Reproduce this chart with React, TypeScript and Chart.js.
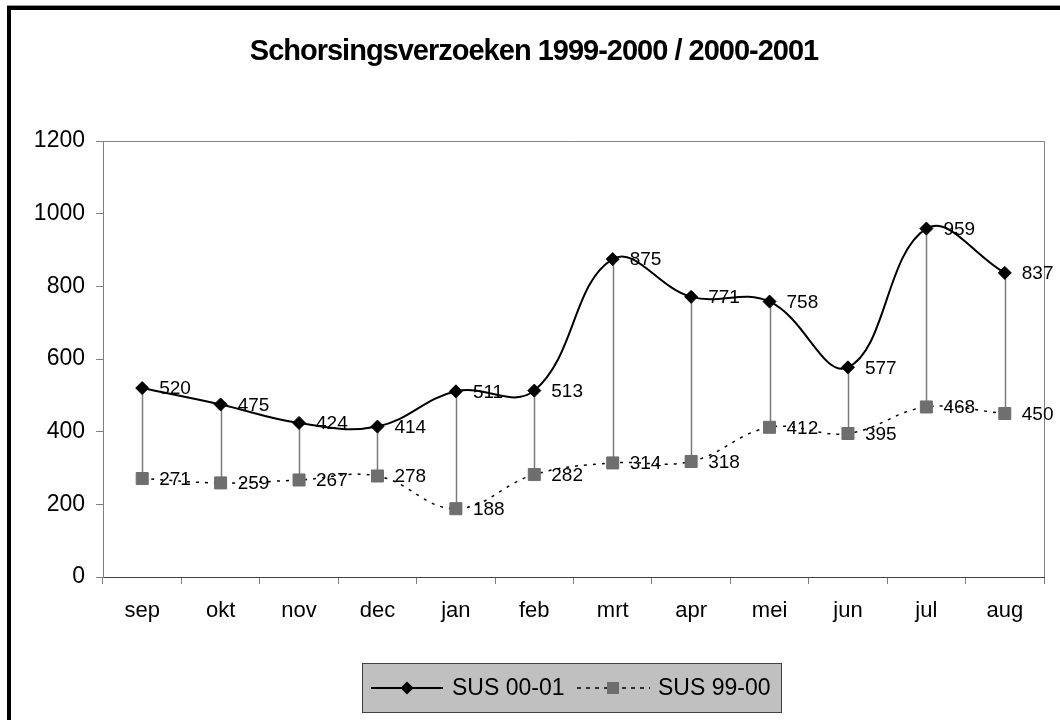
import React, { useEffect, useRef } from "react";
import { Chart, registerables } from "chart.js";

Chart.register(...registerables);

const categories = ["sep", "okt", "nov", "dec", "jan", "feb", "mrt", "apr", "mei", "jun", "jul", "aug"];
const sus0001 = [520, 475, 424, 414, 511, 513, 875, 771, 758, 577, 959, 837];
const sus9900 = [271, 259, 267, 278, 188, 282, 314, 318, 412, 395, 468, 450];
const yTicks = [0, 200, 400, 600, 800, 1000, 1200];
const seriesNames = ["SUS 00-01", "SUS 99-00"];
const titleText = "Schorsingsverzoeken 1999-2000 / 2000-2001";

const FONT = '"Liberation Sans", Arial, sans-serif';
const W = 1060;
const H = 720;

const excelPlugin = {
  id: "excelLook",
  beforeDraw(chart: any) {
    const ctx = chart.ctx;
    ctx.save();
    ctx.fillStyle = "#ffffff";
    ctx.fillRect(0, 0, W, H);
    ctx.fillStyle = "#9a9a9a";
    ctx.fillRect(7, 5, W - 7, 1);
    ctx.fillStyle = "#000000";
    ctx.fillRect(7, 6, W - 7, 4);
    ctx.fillRect(7, 6, 4, H - 6);
    ctx.restore();
  },
  beforeDatasetsDraw(chart: any) {
    const ctx = chart.ctx;
    const { left, right, top, bottom } = chart.chartArea;
    ctx.save();
    ctx.strokeStyle = "#808080";
    ctx.lineWidth = 1;
    ctx.beginPath();
    ctx.moveTo(left, Math.round(top) + 0.5);
    ctx.lineTo(Math.round(right) + 0.5, Math.round(top) + 0.5);
    ctx.lineTo(Math.round(right) + 0.5, bottom);
    ctx.stroke();
    // high-low lines
    const m0 = chart.getDatasetMeta(0);
    const m1 = chart.getDatasetMeta(1);
    ctx.strokeStyle = "#7a7a7a";
    ctx.lineWidth = 1.5;
    m0.data.forEach((p: any, i: number) => {
      const q = m1.data[i];
      if (!q) return;
      const x = Math.round(p.x) + 0.5;
      ctx.beginPath();
      ctx.moveTo(x, p.y);
      ctx.lineTo(x, q.y);
      ctx.stroke();
    });
    ctx.restore();
  },
  afterDatasetsDraw(chart: any) {
    const ctx = chart.ctx;
    ctx.save();
    ctx.font = `19px ${FONT}`;
    ctx.fillStyle = "#000";
    ctx.textAlign = "left";
    ctx.textBaseline = "middle";
    chart.data.datasets.forEach((ds: any, di: number) => {
      const meta = chart.getDatasetMeta(di);
      meta.data.forEach((p: any, i: number) => {
        ctx.fillText(String(ds.data[i]), p.x + 17, p.y + 1);
      });
    });
    ctx.restore();
  },
  afterDraw(chart: any) {
    const ctx = chart.ctx;
    ctx.save();
    // title
    ctx.font = `bold 29px ${FONT}`;
    try {
      (ctx as any).letterSpacing = "-1px";
    } catch (e) {}
    ctx.fillStyle = "#000";
    ctx.textAlign = "center";
    ctx.textBaseline = "middle";
    ctx.fillText(titleText, 534, 52);
    try {
      (ctx as any).letterSpacing = "0px";
    } catch (e) {}

    // legend
    const bx = 362, by = 663, bw = 420, bh = 50;
    ctx.fillStyle = "#c0c0c0";
    ctx.fillRect(bx, by, bw, bh);
    ctx.strokeStyle = "#404040";
    ctx.lineWidth = 1;
    ctx.strokeRect(bx + 0.5, by + 0.5, bw - 1, bh - 1);
    const cy = by + bh / 2;

    // item 1
    ctx.strokeStyle = "#000";
    ctx.lineWidth = 2;
    ctx.beginPath();
    ctx.moveTo(371, cy);
    ctx.lineTo(443, cy);
    ctx.stroke();
    ctx.fillStyle = "#000";
    ctx.beginPath();
    ctx.moveTo(407 - 6.5, cy);
    ctx.lineTo(407, cy - 6.5);
    ctx.lineTo(407 + 6.5, cy);
    ctx.lineTo(407, cy + 6.5);
    ctx.closePath();
    ctx.fill();
    ctx.font = `23px ${FONT}`;
    ctx.textAlign = "left";
    ctx.textBaseline = "middle";
    ctx.fillText(seriesNames[0], 452, cy + 1);

    // item 2
    ctx.lineWidth = 1.5;
    ctx.setLineDash([4, 5]);
    ctx.beginPath();
    ctx.moveTo(577, cy);
    ctx.lineTo(650, cy);
    ctx.stroke();
    ctx.setLineDash([]);
    ctx.fillStyle = "#6e6e6e";
    ctx.fillRect(613 - 6, cy - 6, 12, 12);
    ctx.fillStyle = "#000";
    ctx.fillText(seriesNames[1], 658, cy + 1);
    ctx.restore();
  },
};

export default function App() {
  const ref = useRef<HTMLCanvasElement | null>(null);

  useEffect(() => {
    if (!ref.current) return;
    const chart = new Chart(ref.current, {
      type: "line",
      data: {
        labels: categories,
        datasets: [
          {
            label: seriesNames[0],
            data: sus0001,
            borderColor: "#000000",
            backgroundColor: "#000000",
            borderWidth: 2,
            tension: 0.4,
            pointStyle: "rectRot",
            pointRadius: 6.5,
            pointBackgroundColor: "#000000",
            pointBorderColor: "#000000",
            pointBorderWidth: 1,
            fill: false,
          },
          {
            label: seriesNames[1],
            data: sus9900,
            borderColor: "#000000",
            backgroundColor: "#6e6e6e",
            borderWidth: 1.5,
            borderDash: [3, 6],
            tension: 0.4,
            pointStyle: "rect",
            pointRadius: 8.5,
            pointBackgroundColor: "#6e6e6e",
            pointBorderColor: "#6e6e6e",
            pointBorderWidth: 1,
            fill: false,
          },
        ],
      },
      options: {
        responsive: false,
        maintainAspectRatio: false,
        animation: false,
        events: [],
        layout: { padding: { left: 0, top: 141, right: 16, bottom: 80 } },
        plugins: {
          legend: { display: false },
          title: { display: false },
          tooltip: { enabled: false },
        },
        scales: {
          x: {
            type: "category",
            offset: true,
            grid: {
              offset: true,
              display: true,
              drawOnChartArea: false,
              drawTicks: true,
              tickLength: 7,
              color: "#808080",
            },
            border: { display: true, color: "#404040", width: 1 },
            ticks: {
              color: "#000",
              font: { family: FONT, size: 22 },
              padding: 14,
              maxRotation: 0,
              autoSkip: false,
            },
            afterFit(scale: any) {
              scale.height = 63;
            },
          },
          y: {
            min: 0,
            max: 1200,
            grid: {
              display: true,
              drawOnChartArea: false,
              drawTicks: true,
              tickLength: 7,
              color: "#808080",
            },
            border: { display: true, color: "#808080", width: 1 },
            ticks: {
              color: "#000",
              font: { family: FONT, size: 23 },
              padding: 11,
              callback: (v: any) => String(v),
            },
            afterBuildTicks(scale: any) {
              scale.ticks = yTicks.map((v) => ({ value: v }));
            },
            afterFit(scale: any) {
              scale.width = 103;
            },
          },
        },
      },
      plugins: [excelPlugin],
    } as any);
    return () => chart.destroy();
  }, []);

  return (
    <div style={{ position: "absolute", left: 0, top: 0, width: W, height: H, overflow: "hidden" }}>
      <canvas ref={ref} width={W} height={H} style={{ display: "block", width: W, height: H }} />
    </div>
  );
}
